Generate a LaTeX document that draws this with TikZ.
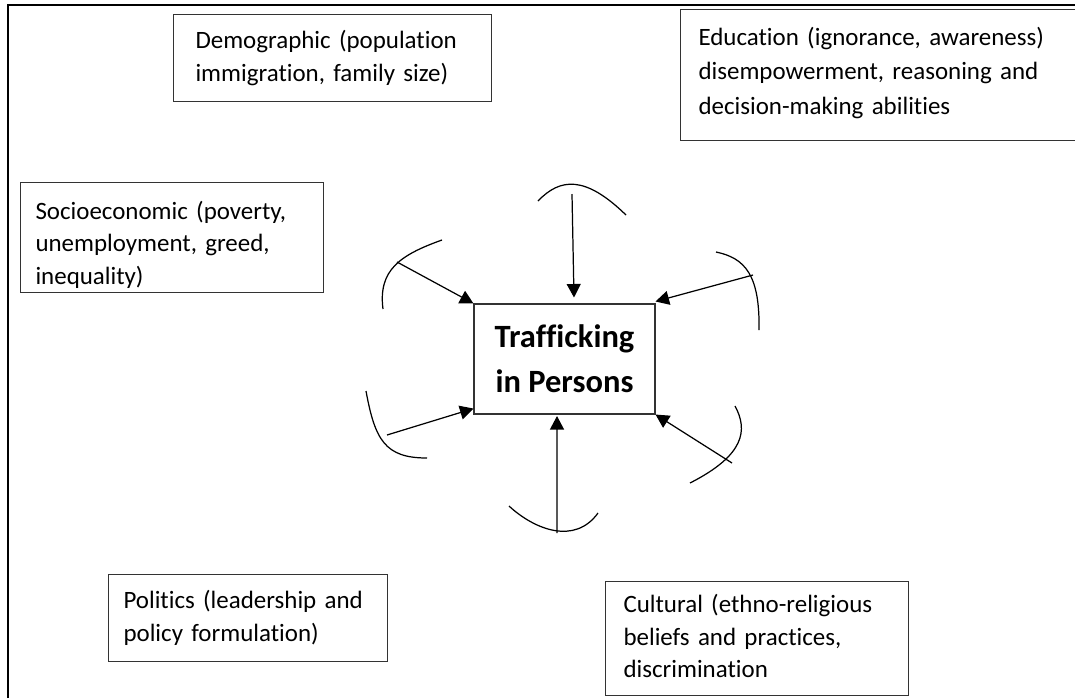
\documentclass[tikz,border=0pt]{standalone}
\usepackage{fontspec}
\setmainfont{Carlito}[Ligatures={NoCommon}]
\usetikzlibrary{arrows.meta, calc}

\begin{document}
\begin{tikzpicture}[x=0.02cm, y=-0.02cm,
    factor/.style={draw=black!80, line width=0.6pt, anchor=north west, align=left,
        inner ysep=0pt, font=\fontsize{14.2}{18.6}\selectfont},
    hub/.style={draw=black!80, line width=0.6pt, align=center, inner sep=0pt,
        minimum width=3.62cm, minimum height=2.2cm, font=\fontsize{18.5}{25.6}\selectfont\bfseries},
    bow/.style={line width=0.7pt},
    feed/.style={line width=0.7pt, -{Triangle[length=2.7mm, width=2.8mm]}}]
    \useasboundingbox (0,0) rectangle (1075,698);
    % Rahmen
    \draw[line width=1.5pt] (8,698) -- (8,5) -- (1075,5);
    % Faktoren
    \node[factor, inner xsep=0.44cm, text width=5.48cm, minimum height=1.74cm] (demo) at (173,14)
        {Demographic (population\\immigration, family size)};
    \node[factor, inner xsep=0.36cm, text width=8.08cm, minimum height=2.62cm,
        font=\fontsize{14.2}{19.6}\selectfont] (edu) at (680,9)
        {Education (ignorance, awareness)\\disempowerment, reasoning and\\decision-making abilities\rule[-0.18cm]{0pt}{0pt}};
    \node[factor, inner xsep=0.3cm, text width=5.46cm, minimum height=2.2cm] (socio) at (20,182)
        {\rule{0pt}{0.65cm}Socioeconomic (poverty,\\unemployment, greed,\\inequality)};
    \node[factor, inner xsep=0.3cm, text width=4.98cm, minimum height=1.74cm] (pol) at (108,574)
        {Politics (leadership and\\policy formulation)};
    \node[factor, inner xsep=0.36cm, text width=5.34cm, minimum height=2.28cm] (cult) at (605,581)
        {Cultural (ethno-religious\\beliefs and practices,\\discrimination\rule[-0.1cm]{0pt}{0pt}};
    % Zentrum
    \node[hub] (tip) at (564.5,359) {Trafficking\\in Persons};
    % Bögen
    \draw[bow] (538,201) .. controls (560,178) and (585,175) .. (626,215);
    \draw[bow] (442,240) .. controls (400,255) and (378,270) .. (383,309);
    \draw[bow] (716,252) .. controls (745,258) and (760,275) .. (759,330);
    \draw[bow] (366,391) .. controls (375,440) and (385,458) .. (427,458);
    \draw[bow] (509,506) .. controls (535,530) and (575,545) .. (598,513);
    \draw[bow] (735,406) .. controls (748,430) and (745,455) .. (690,483);
    % Pfeile
    \coordinate (top) at (572,194);
    \coordinate (ul) at (397,262);
    \coordinate (ur) at (753,275);
    \coordinate (ll) at (387,435);
    \coordinate (bot) at (557,533);
    \coordinate (lr) at (732,463);
    \draw[feed] (top) -- ([xshift=1.9mm, yshift=1.2mm]tip.north);
    \draw[feed] (ul) -- (tip.north west);
    \draw[feed] (ur) -- ([yshift=0.4mm]tip.north east);
    \draw[feed] (ll) -- ([yshift=1.2mm]tip.south west);
    \draw[feed] (bot) -- ([xshift=-1.5mm, yshift=-0.3mm]tip.south);
    \draw[feed] (lr) -- (tip.south east);
\end{tikzpicture}
\end{document}
